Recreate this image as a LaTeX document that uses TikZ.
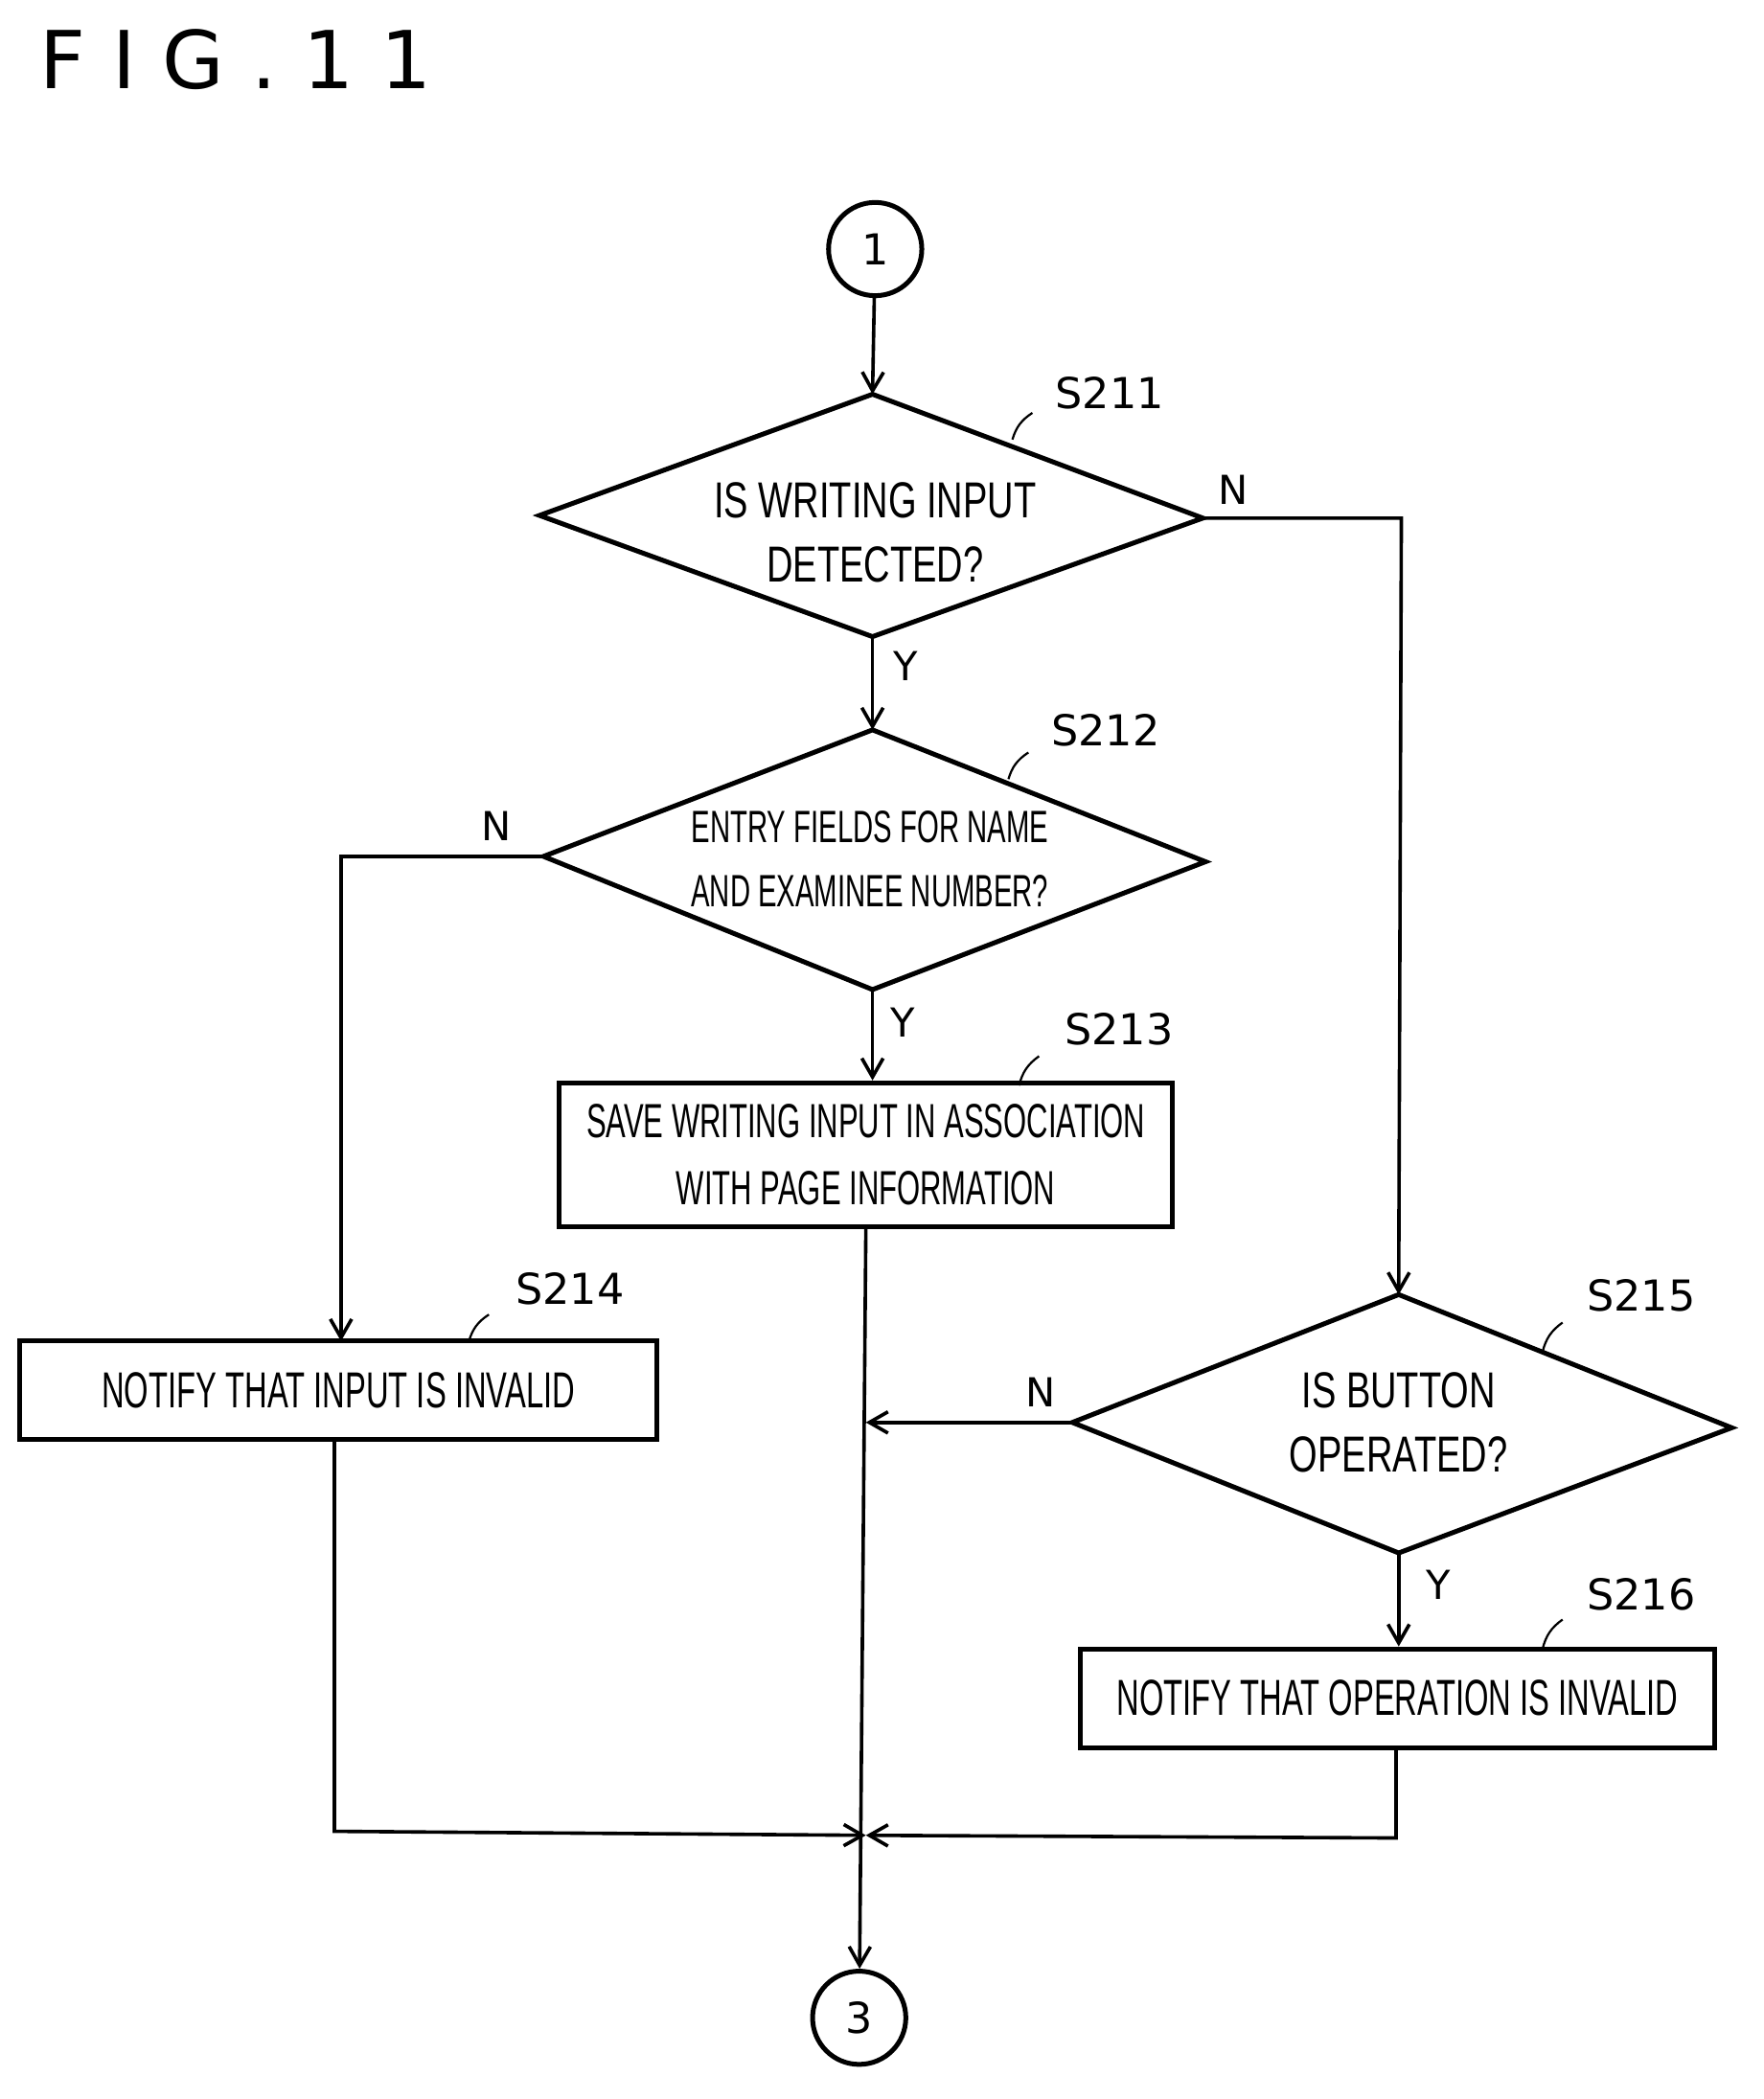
\documentclass[tikz,border=0pt]{standalone}
\usepackage{fontspec}
\setmainfont{Liberation Sans}
\newfontfamily\cond[FakeStretch=0.72]{Liberation Sans}
\newfontfamily\condd[FakeStretch=0.62]{Liberation Sans}
\newfontfamily\lab{DejaVu Sans}
\usetikzlibrary{shapes.geometric,arrows.meta}
\begin{document}
\begin{tikzpicture}[x=0.5pt,y=-0.5pt,line width=1.3pt,
  txt/.style={font=\cond\fontsize{19}{24}\selectfont,align=center},
  box/.style={draw,inner sep=0,line width=1.8pt},
  lbl/.style={font=\lab\fontsize{16}{18}\selectfont},
  yn/.style={font=\lab\fontsize{15}{18}\selectfont},
  arr/.style={-{Straight Barb[length=7pt,width=8pt]}},
  con/.style={draw,circle,minimum size=35pt,inner sep=0,line width=1.8pt,font=\lab\fontsize{16}{18}\selectfont}]
\useasboundingbox (0,0) rectangle (1324,1576);
\node[anchor=west,font=\lab\fontsize{30}{32}\selectfont] (title) at (22,45) {F\hspace{10pt}I\hspace{10pt}G\hspace{10pt}.\hspace{10pt}1\hspace{10pt}1};
\node[con] (c1) at (657,187) {1};
\node[con] (c3) at (645,1515) {3};
\draw[line width=1.8pt] (405,387) coordinate (d1l) -- (655,296) coordinate (d1t) -- (903,389) coordinate (d1r) -- (655,478) coordinate (d1b) -- cycle;
\node[txt] (t1) at (657,400) {IS WRITING INPUT\\DETECTED?};
\draw[line width=1.8pt] (408,643) coordinate (d2l) -- (655,548) coordinate (d2t) -- (905,647) coordinate (d2r) -- (655,743) coordinate (d2b) -- cycle;
\node[txt,font=\condd\fontsize{17}{24}\selectfont] (t2) at (653,645) {ENTRY FIELDS FOR NAME\\AND EXAMINEE NUMBER?};
\draw[line width=1.8pt] (805,1068) coordinate (d3l) -- (1050,972) coordinate (d3t) -- (1300,1072) coordinate (d3r) -- (1050,1166) coordinate (d3b) -- cycle;
\node[txt] (t3) at (1050,1068) {IS BUTTON\\OPERATED?};
\node[box,minimum width=230pt,minimum height=54pt,txt,font=\condd\fontsize{18}{25}\selectfont] (b13) at (650,867) {SAVE WRITING INPUT IN ASSOCIATION\\WITH PAGE INFORMATION};
\node[box,minimum width=239pt,minimum height=37pt,txt,font=\condd\fontsize{19}{24}\selectfont] (b14) at (254,1044) {NOTIFY THAT INPUT IS INVALID};
\node[box,minimum width=238pt,minimum height=37pt,txt,font=\condd\fontsize{19}{24}\selectfont] (b16) at (1049,1275) {NOTIFY THAT OPERATION IS INVALID};
\coordinate (m) at (650,1378);
\draw[arr] (c1) -- (d1t);
\draw[arr] (d1b) -- (d2t);
\draw[arr] (d2b) -- (b13.north -| d2b);
\draw[arr] (d1r) -- (1052,389) -- (d3t);
\draw[arr] (d2l) -- (256,643) -- (256,1007);
\draw[arr] (d3l) -- (650,1068);
\draw[arr] (d3b) -- (b16.north -| d3b);
\draw[arr] (b13.south) -- (c3);
\draw[arr] (251,1082) -- (251,1375) -- (m);
\draw[arr] (1048,1312) -- (1048,1380) -- (m);
\node[yn] (n1) at (926,368) {N};
\node[yn] (y1) at (680,500) {Y};
\node[yn] (n2) at (373,620) {N};
\node[yn] (y2) at (678,768) {Y};
\node[yn] (n3) at (781,1045) {N};
\node[yn] (y3) at (1080,1190) {Y};
\node[lbl] (s1) at (833,295) {S211};
\node[lbl] (s2) at (830,548) {S212};
\node[lbl] (s3) at (840,773) {S213};
\node[lbl] (s4) at (428,968) {S214};
\node[lbl] (s5) at (1232,973) {S215};
\node[lbl] (s6) at (1232,1197) {S216};
\draw[line width=0.8pt] (760,330) to[bend left=20] (775,310);
\draw[line width=0.8pt] (757,585) to[bend left=20] (772,565);
\draw[line width=0.8pt] (765,815) to[bend left=20] (780,793);
\draw[line width=0.8pt] (352,1007) to[bend left=20] (367,987);
\draw[line width=0.8pt] (1158,1015) to[bend left=20] (1173,993);
\draw[line width=0.8pt] (1158,1238) to[bend left=20] (1173,1216);
\end{tikzpicture}
\end{document}
